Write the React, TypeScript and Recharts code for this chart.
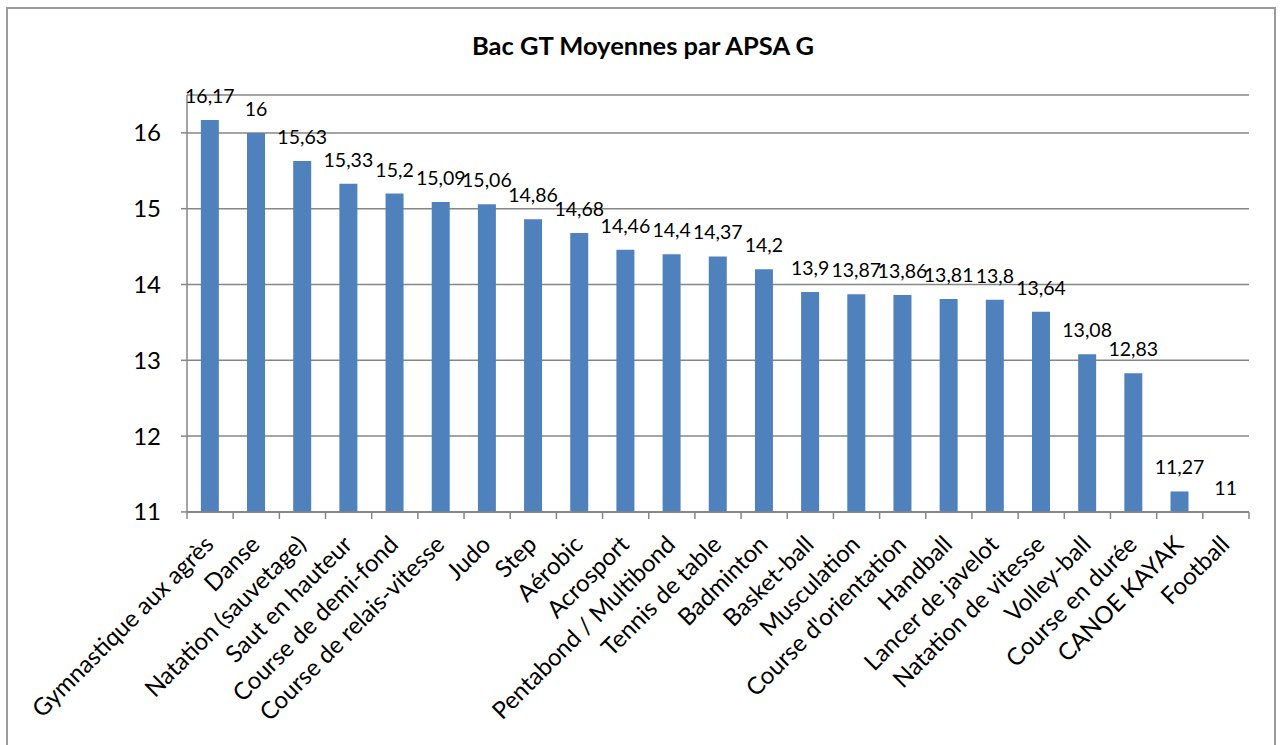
import { BarChart, Bar, XAxis, YAxis, CartesianGrid, LabelList } from 'recharts'

const categories = [
  'Gymnastique aux agrès',
  'Danse',
  'Natation (sauvetage)',
  'Saut en hauteur',
  'Course de demi-fond',
  'Course de relais-vitesse',
  'Judo',
  'Step',
  'Aérobic',
  'Acrosport',
  'Pentabond / Multibond',
  'Tennis de table',
  'Badminton',
  'Basket-ball',
  'Musculation',
  "Course d'orientation",
  'Handball',
  'Lancer de javelot',
  'Natation de vitesse',
  'Volley-ball',
  'Course en durée',
  'CANOE KAYAK',
  'Football',
]

const moyennes = [
  16.17, 16, 15.63, 15.33, 15.2, 15.09, 15.06, 14.86, 14.68, 14.46, 14.4, 14.37,
  14.2, 13.9, 13.87, 13.86, 13.81, 13.8, 13.64, 13.08, 12.83, 11.27, 11,
]

const yTicks = [11, 12, 13, 14, 15, 16]

const data = categories.map((name, i) => ({ name, moyenne: moyennes[i] }))

const FONT = 'Lato, "Open Sans", sans-serif'
const GREY = '#868686'
const BLUE = '#4F81BD'

// Excel-style x axis: tick marks sit between categories, labels rotated 45°
function CategoryTick(props: any) {
  const { x, y, payload, index } = props
  const half = payload?.offset ?? 23
  const ax = x + 5
  const ay = y + 26
  return (
    <g>
      <line x1={x - half} x2={x - half} y1={y - 8} y2={y - 1} stroke={GREY} strokeWidth={1.5} />
      {index === categories.length - 1 && (
        <line x1={x + half} x2={x + half} y1={y - 8} y2={y - 1} stroke={GREY} strokeWidth={1.5} />
      )}
      <text
        x={ax}
        y={ay}
        textAnchor="end"
        transform={`rotate(-45 ${ax} ${ay})`}
        fontSize={24}
        fontFamily={FONT}
        fill="#000"
      >
        {payload.value}
      </text>
    </g>
  )
}

export default function App() {
  return (
    <div style={{ position: 'absolute', left: 0, top: 0, width: 1282, height: 745, background: '#fff', overflow: 'hidden' }}>
      <div
        style={{
          position: 'absolute',
          left: 6,
          top: 7,
          width: 1270,
          height: 760,
          border: '2px solid #9a9a9a',
          boxSizing: 'border-box',
        }}
      />
      <div
        style={{
          position: 'absolute',
          left: 0,
          top: 30,
          width: 1286,
          textAlign: 'center',
          fontFamily: FONT,
          fontWeight: 700,
          fontSize: 25.5,
          lineHeight: '30px',
          color: '#000',
        }}
      >
        Bac GT Moyennes par APSA G
      </div>
      <div style={{ position: 'absolute', left: 0, top: 0 }}>
        <BarChart
          width={1282}
          height={745}
          data={data}
          margin={{ top: 95, right: 33, left: 127, bottom: 13 }}
          barCategoryGap="30%"
        >
          <CartesianGrid vertical={false} stroke={GREY} strokeWidth={1.5} />
          <XAxis
            dataKey="name"
            interval={0}
            height={220}
            tickSize={6}
            tickMargin={2}
            tickLine={false}
            axisLine={{ stroke: GREY, strokeWidth: 1.5 }}
            tick={<CategoryTick />}
          />
          {/* lower bound a hair under 11 so the Football bar (value 11) keeps its label */}
          <YAxis
            type="number"
            domain={[10.999, 16.5]}
            ticks={yTicks}
            width={60}
            tickSize={6}
            tickMargin={20}
            axisLine={{ stroke: GREY, strokeWidth: 1.5 }}
            tickLine={{ stroke: GREY, strokeWidth: 1.5 }}
            tick={{ fontSize: 24, fill: '#000', fontFamily: FONT }}
          />
          <Bar dataKey="moyenne" fill={BLUE} isAnimationActive={false}>
            <LabelList
              dataKey="moyenne"
              position="top"
              offset={17}
              formatter={(v: any) => String(v).replace('.', ',')}
              style={{ fontSize: 19.5, fill: '#000', fontFamily: FONT }}
            />
          </Bar>
        </BarChart>
      </div>
    </div>
  )
}
